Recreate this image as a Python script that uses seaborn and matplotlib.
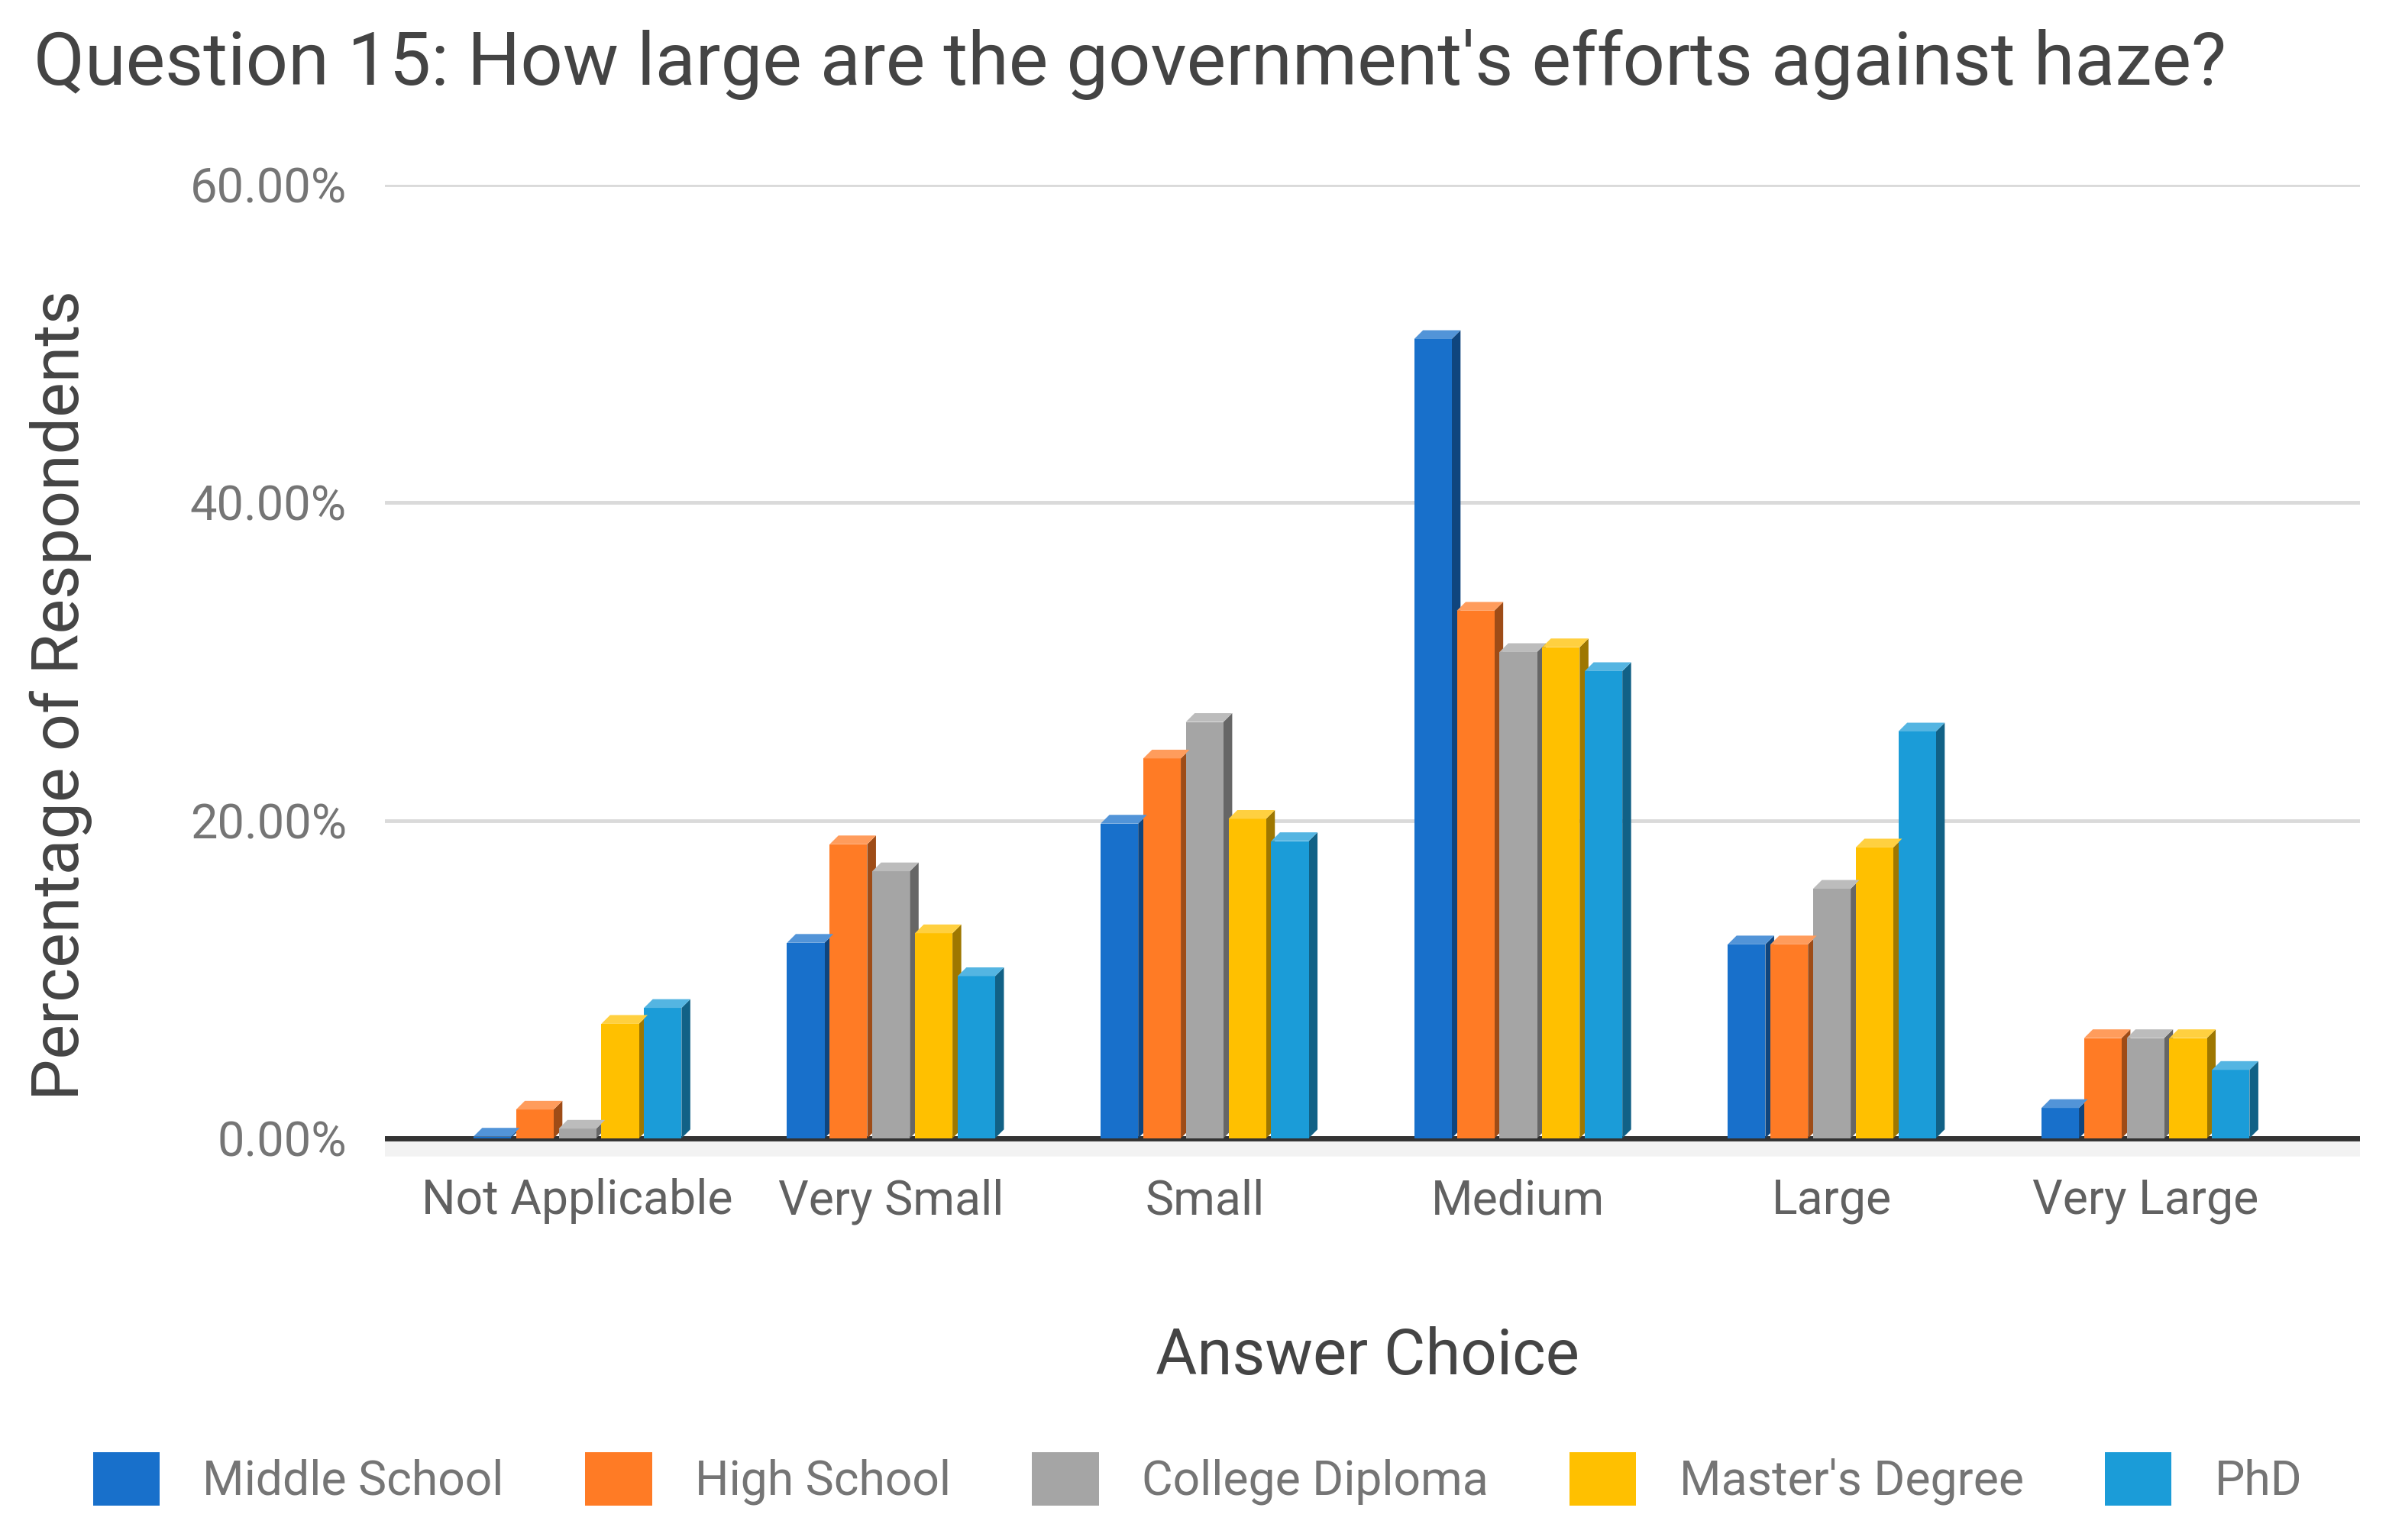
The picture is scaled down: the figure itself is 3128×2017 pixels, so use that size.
import numpy as np
import pandas as pd
import matplotlib
matplotlib.use("Agg")
import matplotlib.pyplot as plt
import matplotlib.colors as mcolors
from matplotlib.patches import Polygon
import seaborn as sns

categories = ["Not Applicable", "Very Small", "Small", "Medium", "Large", "Very Large"]
series_names = ["Middle School", "High School", "College Diploma", "Master's Degree", "PhD"]
middle_school = [0.1, 12.3, 19.8, 50.3, 12.2, 1.9]
high_school = [1.8, 18.5, 23.9, 33.2, 12.2, 6.3]
college_diploma = [0.6, 16.8, 26.2, 30.6, 15.7, 6.3]
masters_degree = [7.2, 12.9, 20.1, 30.9, 18.3, 6.3]
phd = [8.2, 10.2, 18.7, 29.4, 25.6, 4.3]
colors = ["#1870CB", "#FF7B25", "#A5A5A5", "#FFC000", "#1B9CD8"]
y_ticks = [0, 20, 40, 60]

values = [middle_school, high_school, college_diploma, masters_degree, phd]
rows = []
for name, vals in zip(series_names, values):
    for cat, v in zip(categories, vals):
        rows.append({"Answer Choice": cat, "Level": name, "Percent": v})
df = pd.DataFrame(rows)

sns.set_theme(style="white")
plt.rcParams["font.family"] = ["Roboto", "DejaVu Sans"]

W, H = 1564, 1008  # layout reference units (half-size)
fig = plt.figure(figsize=(31.28, 20.17), dpi=100)
ymin, ymax = -1.6, 60
ppu = (745 - 121) / 60.0
bottom_px = 745 + (-ymin) * ppu
ax = fig.add_axes([252 / W, 1 - bottom_px / H, (1545 - 252) / W, (bottom_px - 121) / H])

palette = dict(zip(series_names, colors))
sns.barplot(data=df, x="Answer Choice", y="Percent", hue="Level", order=categories,
            hue_order=series_names, palette=palette, width=0.68, gap=0.12,
            saturation=1.0, ax=ax, zorder=3, linewidth=0)

# 3D-like faces derived from the bar patches
dx, dy = 0.028, 0.55
for cont, col in zip(ax.containers, colors):
    base = np.array(mcolors.to_rgb(col))
    side = tuple(base * 0.62)
    top = tuple(base + (1 - base) * 0.25)
    for p in cont.patches:
        x0 = p.get_x()
        x1 = x0 + p.get_width()
        h = p.get_height()
        ax.add_patch(Polygon([(x1, 0), (x1 + dx, dy), (x1 + dx, h + dy), (x1, h)],
                             closed=True, facecolor=side, edgecolor="none", zorder=2.9))
        ax.add_patch(Polygon([(x0, h), (x0 + dx, h + dy), (x1 + dx, h + dy), (x1, h)],
                             closed=True, facecolor=top, edgecolor="none", zorder=3.1))

# floor
ax.add_patch(Polygon([(-0.66, -1.15), (5.7, -1.15), (5.684, 0), (-0.614, 0)], closed=True,
                     facecolor="#F2F2F2", edgecolor="none", zorder=1))

ax.set_xlim(-0.614, 5.684)
ax.set_ylim(ymin, ymax)
ax.set_yticks(y_ticks)
ax.set_yticklabels([f"{t:.2f}%" for t in y_ticks])
for t in [20, 40, 60]:
    ax.axhline(t, color="#DADADA", lw=3.5, zorder=1)
ax.axhline(0, color="#333333", lw=5, zorder=2)

for s in ax.spines.values():
    s.set_visible(False)
ax.tick_params(axis="y", length=0, pad=36, labelsize=45.5, labelcolor="#757575")
ax.tick_params(axis="x", length=0, pad=14, labelsize=45, labelcolor="#616161")

ax.set_ylabel("Percentage of Respondents", fontsize=62, color="#444444")
ax.yaxis.set_label_coords((40 - 252) / (1545 - 252), (bottom_px - 455) / (bottom_px - 121))
ax.yaxis.label.set_va("center")
ax.set_xlabel("Answer Choice", fontsize=60, color="#444444")
ax.xaxis.set_label_coords((895 - 252) / (1545 - 252), -(888 - bottom_px) / (bottom_px - 121))
ax.xaxis.label.set_va("center")

fig.text(22 / W, 1 - 42 / H, "Question 15: How large are the government's efforts against haze?",
         fontsize=70, color="#444444", ha="left", va="center")

sns.move_legend(ax, "center", bbox_to_anchor=(784 / W, 1 - 968 / H), bbox_transform=fig.transFigure,
                ncol=5, frameon=False, title=None, fontsize=45, handlelength=1.4,
                handleheight=1.35, handletextpad=0.9, columnspacing=1.7)
for t in ax.get_legend().get_texts():
    t.set_color("#757575")

fig.savefig("out.png", dpi=100, facecolor="white")
